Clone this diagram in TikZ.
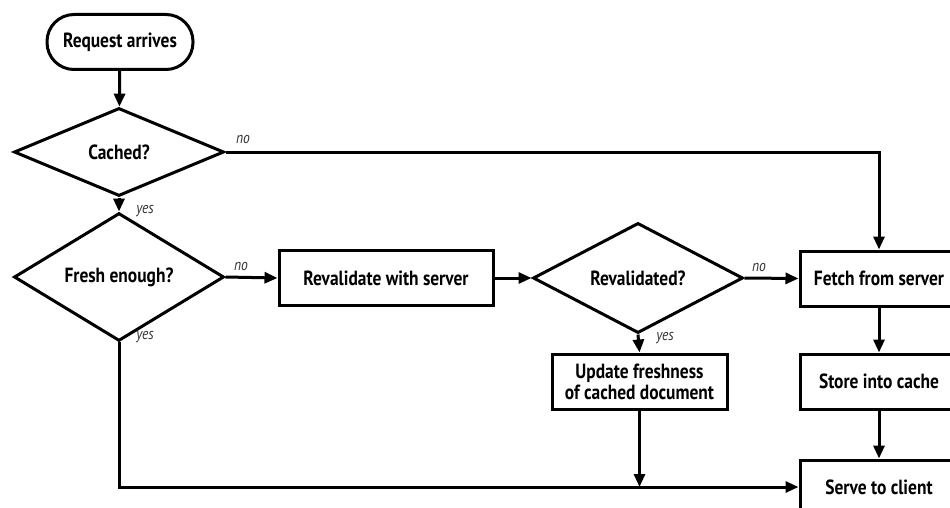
\documentclass[tikz,border=0pt]{standalone}
\usepackage{fontspec}
\setmainfont{PT Sans}[FakeStretch=0.85]
\usetikzlibrary{shapes.geometric,arrows.meta}
\tikzset{
  every picture/.style={x=1pt,y=-1pt},
  base/.style={draw=black,line width=3pt,font=\fontsize{20.5}{21}\selectfont\bfseries,align=center,inner sep=0pt},
  terminal/.style={base,rectangle,rounded corners=27pt,minimum width=146pt,minimum height=55pt},
  stepbox/.style={base,rectangle,minimum height=55pt},
  decision/.style={base,diamond,minimum width=210pt,minimum height=88pt},
  conn/.style={line width=3pt,-{Triangle[length=13pt,width=11pt]}},
  lbl/.style={font=\fontsize{16}{17}\selectfont\itshape,text=black!80,inner sep=0pt}
}
\begin{document}
\begin{tikzpicture}
\useasboundingbox (0,0) rectangle (950,508);
\node[terminal] (start) at (120,42) {Request arrives};
\node[decision] (cached) at (119,152) {Cached?};
\node[decision] (fresh) at (119,277) {Fresh enough?};
\node[stepbox,minimum width=214pt] (reval) at (386,278) {Revalidate with server};
\node[decision] (revd) at (638,278) {Revalidated?};
\node[stepbox,minimum width=158pt] (fetch) at (879,278.5) {Fetch from server};
\node[stepbox,minimum width=175pt] (update) at (639.5,381.5) {Update freshness\\of cached document};
\node[stepbox,minimum width=158pt] (store) at (879,381.5) {Store into cache};
\node[stepbox,minimum width=158pt,minimum height=54pt] (serve) at (879,487) {Serve to client};
\coordinate (corner1) at (879,152);
\coordinate (corner2) at (119,487);
\coordinate (join) at (639.5,487);

\draw[conn] (start) -- (cached);
\draw[conn] (cached) -- (fresh);
\draw[conn] (cached.east) -- (corner1) -- (fetch.north);
\draw[conn] (fresh.east) -- (reval.west);
\draw[conn] (reval.east) -- (revd.west);
\draw[conn] (revd.east) -- (fetch.west);
\draw[conn] (revd.south) -- (update.north);
\draw[conn] (fetch) -- (store);
\draw[conn] (store) -- (serve);
\draw[conn] (fresh.south) -- (corner2) -- (serve.west);
\draw[conn] (update.south) -- (join);

\node[lbl] (l1) at (243,139) {no};
\node[lbl] (l2) at (145,211) {yes};
\node[lbl] (l3) at (241,266) {no};
\node[lbl] (l4) at (145,337) {yes};
\node[lbl] (l5) at (759,267) {no};
\node[lbl] (l6) at (665,338) {yes};
\end{tikzpicture}
\end{document}
